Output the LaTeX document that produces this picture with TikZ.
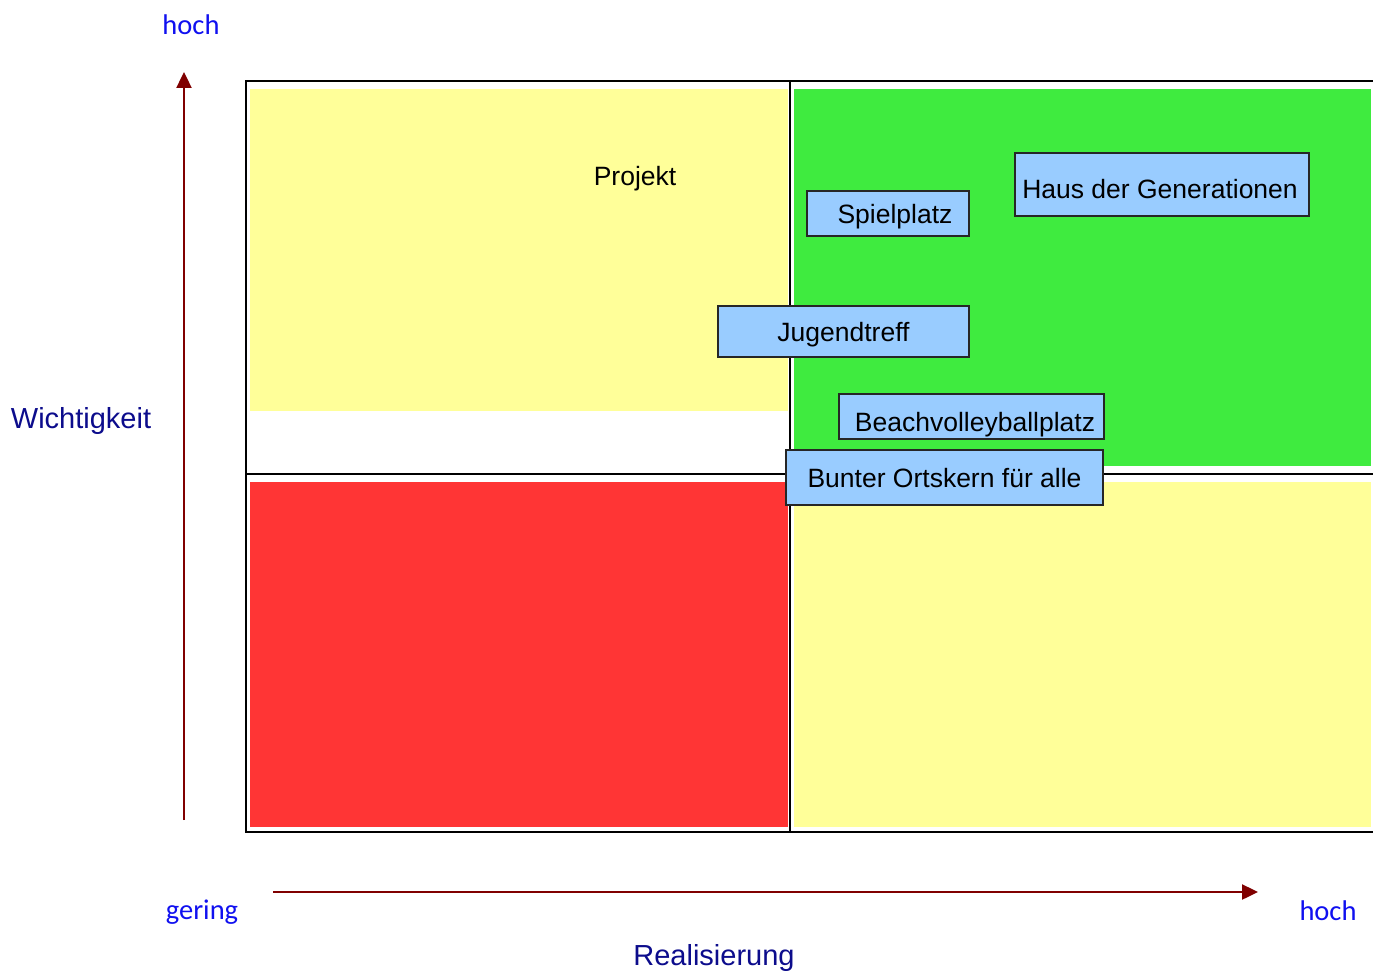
\documentclass[tikz,border=0pt]{standalone}
\usepackage{fontspec}
\setmainfont{Liberation Sans}
\newfontfamily\calib{Carlito}
\usetikzlibrary{arrows.meta}
\definecolor{qyellow}{HTML}{FFFF99}
\definecolor{qgreen}{HTML}{3FEB3F}
\definecolor{qred}{HTML}{FF3535}
\definecolor{qblue}{HTML}{99CCFF}
\definecolor{axisred}{HTML}{800000}
\definecolor{lblblue}{HTML}{1010F0}
\definecolor{navy}{HTML}{0C0C8C}
\tikzset{
  item/.style={draw=black!85, line width=1.8pt, fill=qblue, inner sep=0pt,
    font=\fontsize{26.5}{30}\selectfont, text=black, text depth=0pt},
  plain/.style={inner sep=0pt, font=\fontsize{26.5}{30}\selectfont, text=black,
    text height=19pt, text depth=0pt},
  scale lbl/.style={inner sep=0pt, font=\calib\fontsize{28.5}{32}\selectfont, text=lblblue},
  axis lbl/.style={inner sep=0pt, font=\fontsize{29}{33}\selectfont, text=navy,
    text height=21pt, text depth=0pt},
  axisarrow/.style={draw=axisred, line width=2.4pt, -{Triangle[length=16pt,width=15pt]}},
  frame/.style={draw=black, line width=1.4pt}
}
\begin{document}
\begin{tikzpicture}[x=1pt,y=-1pt]
\useasboundingbox (0,0) rectangle (1373,971);
\fill[white] (0,0) rectangle (1373,971);
% quadrant fills
\fill[qyellow] (250,89) rectangle (788,411);
\fill[qgreen] (794,89) rectangle (1371,466);
\fill[qred] (250,482) rectangle (788,827);
\fill[qyellow] (794,482) rectangle (1371,827);
% frame
\draw[frame] (1373,81) -- (246,81) -- (246,832) -- (1373,832);
\draw[frame] (790,81) -- (790,832);
\draw[frame] (246,474) -- (1373,474);
% text
\node[plain] (projekt) at (635,176) {Projekt};
% items
\node[item, text height=19pt, minimum width=162pt, minimum height=45pt] (spiel) at (888,213.5) {\hspace*{14pt}Spielplatz};
\node[item, text height=28pt, minimum width=294pt, minimum height=63pt] (haus) at (1162,184.5) {Haus der Generationen\hspace*{4pt}};
\node[item, text height=20pt, minimum width=251pt, minimum height=51pt] (jugend) at (843.5,331.5) {Jugendtreff};
\node[item, text height=30pt, minimum width=265pt, minimum height=45pt] (beach) at (971.5,416.5) {\hspace*{7pt}Beachvolleyballplatz};
\node[item, text height=20pt, minimum width=317pt, minimum height=55pt] (bunter) at (944.5,477.5) {Bunter Ortskern für alle};
% axes
\coordinate (ybot) at (184,820);
\coordinate (ytop) at (184,72);
\coordinate (xl) at (273,892);
\coordinate (xr) at (1258,892);
\draw[axisarrow] (ybot) -- (ytop);
\draw[axisarrow] (xl) -- (xr);
% labels
\node[scale lbl] (yhoch) at (191,25) {hoch};
\node[scale lbl] (gering) at (202,912) {gering};
\node[scale lbl] (xhoch) at (1328,911) {hoch};
\node[axis lbl] (wicht) at (81,418) {Wichtigkeit};
\node[axis lbl] (real) at (714,955) {Realisierung};
\end{tikzpicture}
\end{document}
